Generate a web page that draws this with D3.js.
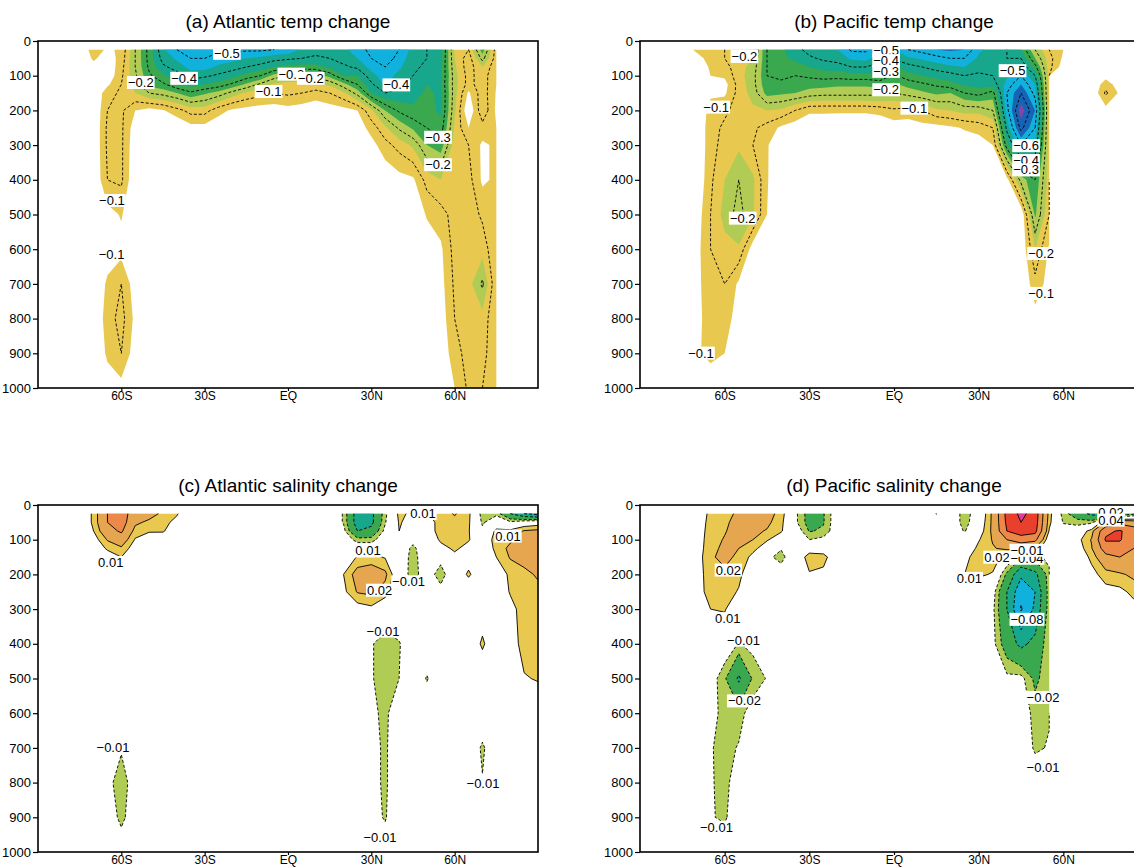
<!DOCTYPE html>
<html>
<head>
<meta charset="utf-8">
<script src="https://cdn.jsdelivr.net/npm/d3@7"></script>
<style>
  body { margin: 0; background: #fff; }
  svg { display: block; font-family: "Liberation Sans", Arial, sans-serif; }
</style>
</head>
<body>
<svg id="chart" width="1134" height="867"></svg>
<script>
// section grid: one column per latitude, values top to bottom at these depths (m)
const lats = [-80, -75, -70, -65, -60, -55, -50, -45, -40, -35, -30, -25, -20, -15, -10, -5, 0,
  5, 10, 15, 20, 25, 30, 35, 40, 45, 50, 55, 60, 65, 70, 75, 80, 85, 90]
const depths = [25, 50, 75, 100, 125, 150, 200, 250, 300, 400, 500, 600, 700, 800, 900, 1000]

// a column shorter than depths means 0 below; null = no data
const noData = [null, null, null, null, null, null, null, null, null, null, null, null, null, null, null, null]

// temperature change (degC)
const atlTemp = [
  /* -80 */ [],
  /* -75 */ [],
  /* -70 */ [-.08, -.06, -.03],
  /* -65 */ [-.04, -.02, -.01, -.01, -.04, -.08, -.1, -.11, -.11, -.1, -.03, -.02, -.06, -.075, -.06, -.02],
  /* -60 */ [-.06, -.07, -.08, -.09, -.1, -.11, -.11, -.11, -.11, -.11, -.055, -.03, -.1, -.12, -.1, -.03],
  /* -55 */ [-.2, -.2, -.2, -.19, -.17, -.15, -.05, -.02, -.01, 0, 0, 0, -.02, -.035, -.02],
  /* -50 */ [-.32, -.32, -.31, -.29, -.27, -.2, -.03, -.01],
  /* -45 */ [-.44, -.42, -.39, -.34, -.29, -.22, -.045, -.02, -.01],
  /* -40 */ [-.5, -.46, -.42, -.38, -.34, -.25, -.08],
  /* -35 */ [-.52, -.5, -.47, -.42, -.37, -.29, -.12, -.03],
  /* -30 */ [-.52, -.5, -.47, -.41, -.35, -.26, -.12, -.03],
  /* -25 */ [-.51, -.48, -.44, -.39, -.33, -.23, -.07, -.01],
  /* -20 */ [-.51, -.47, -.42, -.37, -.29, -.18, -.04],
  /* -15 */ [-.51, -.45, -.4, -.33, -.24, -.14, -.03],
  /* -10 */ [-.51, -.44, -.38, -.3, -.19, -.12, -.02],
  /*  -5 */ [-.5, -.42, -.35, -.23, -.14, -.1, -.02],
  /*   0 */ [-.49, -.41, -.33, -.2, -.13, -.11, -.03],
  /*   5 */ [-.44, -.4, -.33, -.21, -.13, -.1, -.02],
  /*  10 */ [-.42, -.39, -.33, -.22, -.14, -.08, -.01],
  /*  15 */ [-.43, -.4, -.36, -.27, -.16, -.1, -.02],
  /*  20 */ [-.44, -.42, -.39, -.35, -.23, -.14, -.03],
  /*  25 */ [-.47, -.45, -.41, -.35, -.3, -.22, -.05, -.02],
  /*  30 */ [-.52, -.5, -.47, -.43, -.39, -.35, -.14, -.07, -.03],
  /*  35 */ [-.55, -.53, -.5, -.48, -.46, -.4, -.25, -.14, -.08, -.01],
  /*  40 */ [-.5, -.48, -.46, -.43, -.41, -.39, -.31, -.21, -.12, -.03, -.01],
  /*  45 */ [-.43, -.42, -.41, -.4, -.39, -.37, -.34, -.26, -.16, -.04, -.01],
  /*  50 */ [-.4, -.4, -.39, -.37, -.35, -.34, -.33, -.3, -.25, -.12, -.055, -.02, -.01],
  /*  55 */ [-.38, -.37, -.36, -.36, -.35, -.36, -.36, -.33, -.28, -.15, -.08, -.04, -.03, -.02, -.01],
  /*  60 */ [-.14, -.15, -.16, -.17, -.17, -.17, -.16, -.14, -.12, -.12, -.12, -.12, -.11, -.1, -.08, -.05],
  /*  65 */ [-.1, -.07, -.07, -.08, -.08, -.04, 0, -.05, -.1, -.12, -.13, -.13, -.13, -.12, -.12, -.11],
  /*  70 */ [-.28, -.22, -.15, -.13, -.13, -.13, -.14, -.08, -.04, -.04, -.09, -.13, -.21, -.13, -.12, -.1],
  /*  75 */ [-.07, -.07, -.06, -.05, -.05, -.045, -.04, -.05, -.06, -.06, -.06, -.055, -.055, -.055, -.055, -.055],
  /*  80 */ noData,
  /*  85 */ noData,
  /*  90 */ noData
]

const pacTemp = [
  /* -80 */ [],
  /* -75 */ [-.02],
  /* -70 */ [-.06, -.03, 0, 0, 0, 0, 0, 0, 0, 0, -.02, -.03, -.03, -.03, -.04],
  /* -65 */ [-.09, -.07, -.06, -.05, -.03, -.04, -.07, -.08, -.08, -.09, -.1, -.1, -.09, -.08, -.07],
  /* -60 */ [-.1, -.1, -.08, -.06, -.03, -.04, -.09, -.11, -.12, -.15, -.17, -.13, -.1, -.08, -.05],
  /* -55 */ [-.12, -.13, -.13, -.13, -.12, -.12, -.12, -.13, -.14, -.2, -.22, -.14, -.04, -.02, -.01],
  /* -50 */ [-.14, -.15, -.17, -.18, -.18, -.17, -.14, -.11, -.1, -.16, -.16, -.02],
  /* -45 */ [-.3, -.3, -.3, -.3, -.29, -.27, -.15, -.08, -.055, -.055, -.05, -.01],
  /* -40 */ [-.34, -.34, -.33, -.31, -.29, -.26, -.14, -.04, -.01],
  /* -35 */ [-.38, -.36, -.33, -.3, -.28, -.25, -.1, -.02],
  /* -30 */ [-.42, -.39, -.35, -.31, -.27, -.23, -.06, -.01],
  /* -25 */ [-.43, -.41, -.37, -.32, -.27, -.22, -.06, -.01],
  /* -20 */ [-.45, -.42, -.38, -.32, -.26, -.22, -.06],
  /* -15 */ [-.51, -.46, -.4, -.33, -.26, -.22, -.06],
  /* -10 */ [-.51, -.47, -.4, -.33, -.26, -.22, -.06],
  /*  -5 */ [-.44, -.42, -.38, -.34, -.27, -.22, -.07],
  /*   0 */ [-.45, -.41, -.34, -.29, -.24, -.2, -.09, -.02],
  /*   5 */ [-.5, -.44, -.38, -.33, -.27, -.22, -.08, -.02],
  /*  10 */ [-.52, -.46, -.4, -.35, -.29, -.24, -.1, -.03],
  /*  15 */ [-.55, -.48, -.42, -.37, -.31, -.26, -.14, -.03],
  /*  20 */ [-.56, -.5, -.44, -.38, -.33, -.25, -.15, -.04, -.01],
  /*  25 */ [-.55, -.5, -.45, -.4, -.36, -.3, -.17, -.055, -.02],
  /*  30 */ [-.46, -.44, -.42, -.39, -.37, -.32, -.17, -.07, -.02],
  /*  35 */ [-.43, -.42, -.41, -.4, -.37, -.28, -.2, -.1, -.05, -.01],
  /*  40 */ [-.4, -.4, -.41, -.44, -.47, -.5, -.48, -.42, -.33, -.03, -.01],
  /*  45 */ [-.35, -.4, -.45, -.5, -.55, -.6, -.68, -.62, -.5, -.22, 0],
  /*  50 */ [-.2, -.25, -.32, -.4, -.45, -.48, -.55, -.5, -.44, -.3, -.26, -.15, -.08, -.03],
  /*  55 */ [-.1, -.12, -.12, -.12, -.12, -.12, -.12, -.12, -.12, -.12, -.1, -.04, -.03],
  /*  60 */ [-.05, -.04, -.02, null, null, null, null, null, null, null, null, null, null, null, null, null],
  /*  65 */ [],
  /*  70 */ [],
  /*  75 */ [0, 0, 0, -.03, -.08, -.11, -.03],
  /*  80 */ [0, 0, 0, 0, -.02, -.04],
  /*  85 */ [],
  /*  90 */ []
]

// salinity change (psu)
const atlSal = [
  /* -80 */ [],
  /* -75 */ [],
  /* -70 */ [.012, .012, .01, .004],
  /* -65 */ [.04, .04, .032, .021, .012, .003, 0, 0, 0, 0, 0, 0, 0, -.006],
  /* -60 */ [.05, .05, .043, .029, .018, .01, 0, 0, 0, 0, 0, 0, -.0086, -.016, -.014],
  /* -55 */ [.029, .023, .015, .009, .003, 0, 0, 0, 0, 0, 0, 0, 0, -.003],
  /* -50 */ [.026, .017, .011, .004],
  /* -45 */ [.017, .013, .011, .003],
  /* -40 */ [.011, .007, .003],
  /* -35 */ [], /* -30 */ [], /* -25 */ [], /* -20 */ [], /* -15 */ [], /* -10 */ [],
  /*  -5 */ [], /*   0 */ [], /*   5 */ [], /*  10 */ [], /*  15 */ [],
  /*  20 */ [-.011, -.011, -.006, 0, 0, 0, .01, .007],
  /*  25 */ [-.05, -.05, -.04, -.015, 0, .011, .026, .021, .004],
  /*  30 */ [-.045, -.045, -.034, -.015, 0, .013, .029, .023, .007, -.009, -.009, -.007, -.006, -.006, -.006],
  /*  35 */ [-.013, -.011, -.006, 0, 0, .009, .023, .015, 0, -.015, -.015, -.013, -.012, -.012, -.011, -.003],
  /*  40 */ [.013, .011, .01, 0, 0, 0, -.003, 0, 0, -.011, -.01],
  /*  45 */ [.007, .006, .003, -.006, -.013, -.015, -.014],
  /*  50 */ [.009, .006, .003, 0, 0, 0, -.004, 0, 0, 0, -.011],
  /*  55 */ [.015, .013, .015, .012, .006, -.006, -.015, -.006],
  /*  60 */ [.021, .017, .015, .014, .012, .007],
  /*  65 */ [.013, .012, .011, .011, .006, .004, .012],
  /*  70 */ [-.015, -.012, -.007, 0, 0, 0, 0, 0, .003, .012, 0, 0, -.012, -.0093],
  /*  75 */ [-.013, 0, .013, .015, .013, .01],
  /*  80 */ [-.04, -.007, .013, .018, .023, .021, .013, .011, .006, .003],
  /*  85 */ [-.06, 0, .021, .025, .025, .023, .018, .015, .015, .015, .009],
  /*  90 */ [-.068, .003, .023, .029, .029, .025, .021, .018, .017, .016, .011]
]

const pacSal = [
  /* -80 */ [],
  /* -75 */ [],
  /* -70 */ [.004, .004, .004, .004, .004, .004, .004, .004, .004],
  /* -65 */ [.012, .013, .014, .015, .016, .018, .016, .015, .01, 0, -.003, -.003, -.009, -.009, -.009],
  /* -60 */ [.015, .017, .019, .021, .023, .024, .017, .015, .011, 0, -.018, -.016, -.014, -.013, -.012],
  /* -55 */ [.023, .026, .026, .023, .02, .017, .013, .009, 0, -.011, -.043, -.015, -.009, -.004],
  /* -50 */ [.028, .027, .023, .02, .013, .007, 0, 0, 0, -.006, -.018, -.003],
  /* -45 */ [.026, .023, .019, .011, .004, -.007, 0, 0, 0, -.003, -.009],
  /* -40 */ [.015, .013, .011, .004, -.009, -.014, -.003],
  /* -35 */ [-.007, -.007],
  /* -30 */ [-.026, -.026, -.021, -.01, .004, .015, .009],
  /* -25 */ [-.021, -.021, -.018, -.006, .003, .014, .007],
  /* -20 */ [], /* -15 */ [], /* -10 */ [], /*  -5 */ [], /*   0 */ [], /*   5 */ [], /*  10 */ [],
  /*  15 */ [-.0105],
  /*  20 */ [],
  /*  25 */ [-.015, -.015, -.011, 0, 0, .007, .01],
  /*  30 */ [-.003, 0, .003, .009, .013, .015, .012],
  /*  35 */ [.023, .023, .023, .021, .019, .016, .009, -.004, -.007, -.006],
  /*  40 */ [.066, .064, .06, .04, .023, .004, -.023, -.04, -.04, -.029, -.007],
  /*  45 */ [.085, .08, .07, .05, .023, -.018, -.056, -.074, -.082, -.045, -.006],
  /*  50 */ [.072, .07, .066, .045, .018, -.015, -.045, -.06, -.056, -.034, -.023, -.015, -.012],
  /*  55 */ [.015, .013, .009, 0, -.003, -.006, -.013, -.013, -.013, -.011, -.013, -.011, -.009],
  /*  60 */ [-.015, -.011, -.004, null, null, null, null, null, null, null, null, null, null, null, null, null],
  /*  65 */ [-.029, -.015, 0, .006, .003],
  /*  70 */ [-.045, -.013, .015, .021, .019, .013, .006],
  /*  75 */ [-.056, .023, .056, .062, .05, .034, .015, .006],
  /*  80 */ [-.034, .034, .062, .062, .05, .04, .018, .007],
  /*  85 */ [-.023, .029, .05, .045, .04, .034, .023, .013, .006],
  /*  90 */ [-.023, .023, .045, .04, .034, .032, .023, .013, .006]
]

// contour labels: [lat, depth, text]
const atlTempLabels = [
  [-22, 35, "−0.5"], [-37.4, 107, "−0.4"], [-53, 119, "−0.2"], [-63.4, 459, "−0.1"],
  [-63.5, 614, "−0.1"], [-7, 145, "−0.1"], [1.2, 95, "−0.3"], [8.2, 107, "−0.2"],
  [39, 126, "−0.4"], [54, 277, "−0.3"], [54, 356, "−0.2"]
]
const pacTempLabels = [
  [-53, 44, "−0.2"], [-63, 190, "−0.1"], [-53.6, 510, "−0.2"], [-68.4, 899, "−0.1"],
  [-2.8, 27, "−0.5"], [-2.8, 56, "−0.4"], [-2.8, 87, "−0.3"], [-2.8, 140, "−0.2"],
  [7.2, 193, "−0.1"], [42, 85, "−0.5"], [46.8, 301, "−0.6"], [46.8, 344, "−0.4"],
  [46.8, 371, "−0.3"], [52.1, 612, "−0.2"], [52.1, 727, "−0.1"]
]
const atlSalLabels = [
  [-63.8, 165, "0.01"], [28.8, 132, "0.01"], [33, 245, "0.02"], [43.4, 221, "−0.01"],
  [48.6, 24, "0.01"], [79.2, 89, "0.01"], [34.2, 363, "−0.01"], [-63, 697, "−0.01"],
  [33.1, 957, "−0.01"], [70.2, 801, "−0.01"]
]
const pacSalLabels = [
  [-58.7, 187, "0.02"], [-58.9, 327, "0.01"], [-53.3, 389, "−0.01"], [-53, 564, "−0.02"],
  [-62.9, 928, "−0.01"], [26.7, 211, "0.01"], [36.5, 150, "0.02"], [47.1, 153, "−0.04"],
  [47.1, 130, "−0.01"], [47.1, 329, "−0.08"], [76.9, 22, "0.02"], [76.9, 43, "0.04"],
  [52.8, 554, "−0.02"], [52.8, 755, "−0.01"]
]

const xTicks = [-60, -30, 0, 30, 60]
const xTickLabels = ["60S", "30S", "EQ", "30N", "60N"]
const yTicks = [0, 100, 200, 300, 400, 500, 600, 700, 800, 900, 1000]

// contour levels (magnitude) and shading
const tempLevels = [0.1, 0.2, 0.3, 0.4, 0.5, 0.6, 0.7]
const tempShade = [0.05, 0.15, 0.25, 0.35, 0.45, 0.55, 0.65]
const tempColors = ["#e9c84f", "#b1cc54", "#3aa84e", "#17a78c", "#10b1dd", "#1864b4", "#8a44a6"]
const salLevels = [0.01, 0.02, 0.04, 0.06, 0.08]
const salShadePos = [0.01, 0.02, 0.04, 0.06, 0.08]
const salColorsPos = ["#e9c84f", "#e6a650", "#ec8848", "#e8402c", "#e03c9c"]
const salShadeNeg = [0.01, 0.02, 0.04, 0.06, 0.1]
const salColorsNeg = ["#b1cc54", "#3aa84e", "#17a78c", "#10b1dd", "#1864b4"]

const tempStyle = {
  shades: [{ sign: -1, thresholds: tempShade, colors: tempColors }],
  lines: [{ sign: -1, levels: tempLevels }]
}
const salStyle = {
  shades: [
    { sign: 1, thresholds: salShadePos, colors: salColorsPos },
    { sign: -1, thresholds: salShadeNeg, colors: salColorsNeg }
  ],
  lines: [{ sign: 1, levels: salLevels }, { sign: -1, levels: salLevels }]
}

const panels = [
  { id: "pa", title: "(a) Atlantic temp change", data: atlTemp, labels: atlTempLabels, left: 38, top: 41, width: 500, style: tempStyle },
  { id: "pb", title: "(b) Pacific temp change", data: pacTemp, labels: pacTempLabels, left: 640, top: 41, width: 508, style: tempStyle },
  { id: "pc", title: "(c) Atlantic salinity change", data: atlSal, labels: atlSalLabels, left: 38, top: 505, width: 500, style: salStyle },
  { id: "pd", title: "(d) Pacific salinity change", data: pacSal, labels: pacSalLabels, left: 640, top: 505, width: 508, style: salStyle }
]
const plotHeight = 347

const svg = d3.select("#chart")
const defs = svg.append("defs")
const nx = lats.length, ny = depths.length

// grid index -> latitude / depth
const latAt = d3.scaleLinear().domain(d3.range(nx)).range(lats).clamp(true)
const depthAt = d3.scaleLinear().domain(d3.range(ny)).range(depths).clamp(true)

function toGrid(cols) {
  const values = new Array(nx * ny)
  cols.forEach((col, i) => {
    depths.forEach((_, j) => {
      const v = col[j] === undefined ? 0 : col[j]
      values[j * nx + i] = v === null ? NaN : v
    })
  })
  return values
}

// contour line without the closing pieces along the grid border or no-data cells
function linePath(contour, gx, gy) {
  const edge = p => (p[0] <= 0.5 ? 1 : 0) | (p[0] >= nx - 0.5 ? 2 : 0) |
    (p[1] <= 0.5 ? 4 : 0) | (p[1] >= ny - 0.5 ? 8 : 0)
  const onNode = p => Math.abs(p[0] - 0.5 - Math.round(p[0] - 0.5)) < 1e-9 &&
    Math.abs(p[1] - 0.5 - Math.round(p[1] - 0.5)) < 1e-9
  let d = ""
  contour.coordinates.forEach(poly => poly.forEach(ring => {
    let open = false
    for (let k = 0; k < ring.length - 1; k++) {
      const a = ring[k], b = ring[k + 1]
      const ea = edge(a), eb = edge(b), sa = onNode(a), sb = onNode(b)
      if ((ea & eb) || (sa && sb) || (sa && eb) || (ea && sb)) { open = false; continue }
      if (!open) d += `M${gx(a[0]).toFixed(2)},${gy(a[1]).toFixed(2)}`
      d += `L${gx(b[0]).toFixed(2)},${gy(b[1]).toFixed(2)}`
      open = true
    }
  }))
  return d || null
}

function drawPanel(p) {
  const x = d3.scaleLinear().domain([-90, 90]).range([0, p.width])
  const y = d3.scaleLinear().domain([0, 1000]).range([0, plotHeight])
  const gx = c => x(latAt(c - 0.5))
  const gy = c => y(depthAt(c - 0.5))
  const path = d3.geoPath(d3.geoTransform({ point(a, b) { this.stream.point(gx(a), gy(b)) } }))

  defs.append("clipPath").attr("id", p.id).append("rect")
    .attr("width", p.width).attr("height", plotHeight)

  const g = svg.append("g").attr("transform", `translate(${p.left},${p.top})`)
  const plot = g.append("g").attr("clip-path", `url(#${p.id})`)

  const values = toGrid(p.data)
  const negated = values.map(v => -v)

  p.style.shades.forEach(s => {
    const field = s.sign < 0 ? negated : values
    d3.contours().size([nx, ny]).thresholds(s.thresholds)(field).forEach((c, k) => {
      plot.append("path").attr("d", path(c)).attr("fill", s.colors[k])
    })
  })

  p.style.lines.forEach(l => {
    const field = l.sign < 0 ? negated : values
    d3.contours().size([nx, ny]).thresholds(l.levels.map(v => v + 1e-6))(field).forEach(c => {
      plot.append("path")
        .attr("d", linePath(c, gx, gy))
        .attr("fill", "none")
        .attr("stroke", "#000")
        .attr("stroke-width", 0.9)
        .attr("stroke-dasharray", l.sign < 0 ? "3,2" : null)
    })
  })

  // contour labels with white boxes
  g.append("g").selectAll("g")
    .data(p.labels)
    .join("g")
    .attr("transform", d => `translate(${x(d[0])},${y(d[1])})`)
    .each(function (d) {
      const sel = d3.select(this)
      const t = sel.append("text")
        .attr("text-anchor", "middle")
        .attr("dy", "0.36em")
        .attr("font-size", 13)
        .attr("fill", "#000")
        .text(d[2])
      const b = t.node().getBBox()
      sel.insert("rect", "text")
        .attr("x", b.x - 1).attr("y", b.y + 1)
        .attr("width", b.width + 2).attr("height", b.height - 2)
        .attr("fill", "#fff")
    })

  g.append("rect")
    .attr("width", p.width).attr("height", plotHeight)
    .attr("fill", "none").attr("stroke", "#000").attr("stroke-width", 1.6)

  const xAxis = g.append("g")
    .attr("transform", `translate(0,${plotHeight})`)
    .call(d3.axisBottom(x).tickValues(xTicks).tickFormat((d, i) => xTickLabels[i]).tickSize(3).tickPadding(0))
  const yAxis = g.append("g")
    .call(d3.axisLeft(y).tickValues(yTicks).tickFormat(d3.format("d")).tickSize(5).tickPadding(2))
  ;[xAxis, yAxis].forEach(a => {
    a.select(".domain").remove()
    a.selectAll("text").attr("font-size", 13).attr("font-family", "'Liberation Sans', Arial, sans-serif").attr("fill", "#000")
    a.selectAll("line").attr("stroke", "#000").attr("stroke-width", 1.2)
  })
  xAxis.selectAll("text").attr("font-size", 12)

  svg.append("text")
    .attr("x", p.left + p.width / 2)
    .attr("y", p.top - 13)
    .attr("text-anchor", "middle")
    .attr("font-size", 19)
    .attr("fill", "#000")
    .text(p.title)
}

panels.forEach(drawPanel)
</script>
</body>
</html>
